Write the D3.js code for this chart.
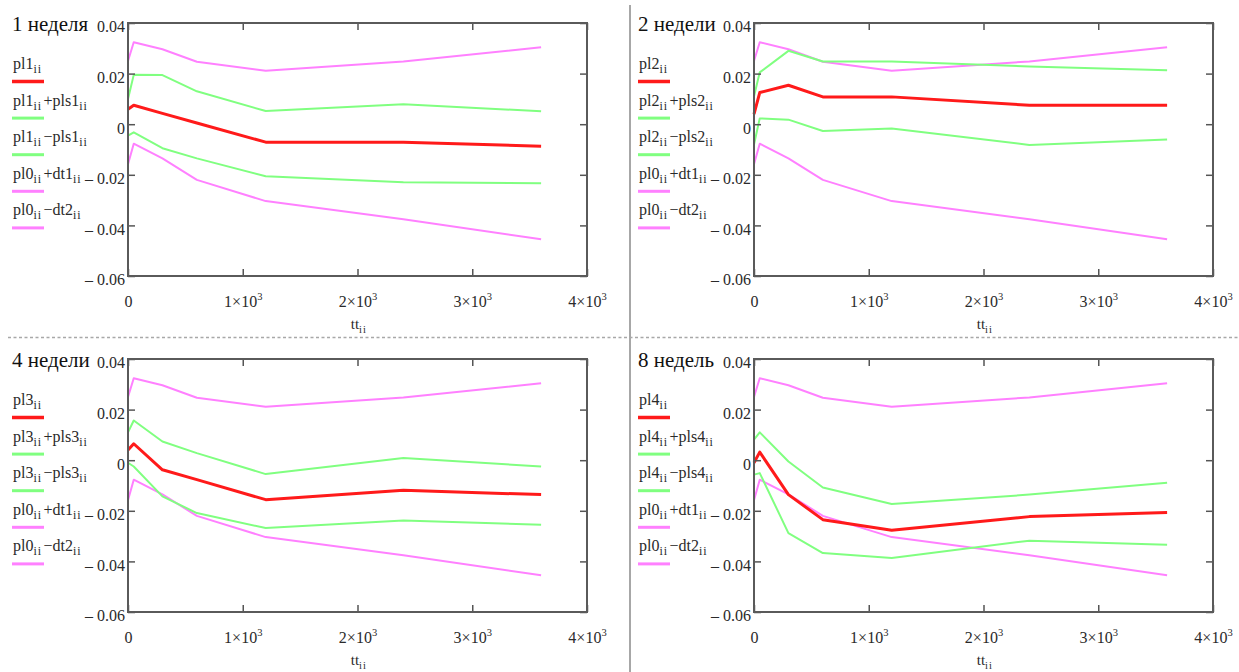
<!DOCTYPE html>
<html><head><meta charset="utf-8">
<script src="https://cdn.jsdelivr.net/npm/d3@7"></script>
<style>
body{margin:0;background:#fff;}
svg{display:block;}
svg text{font-family:'Liberation Serif','DejaVu Serif','Times New Roman',serif;}
</style></head><body>
<svg id="chart" width="1239" height="672"></svg>
<script>
// ---- data ----
const tt = [0, 50, 300, 600, 1200, 2400, 3600];
const pl0PlusDt1  = [0.025, 0.0324, 0.0296, 0.0247, 0.0211, 0.0248, 0.0304];
const pl0MinusDt2 = [-0.0158, -0.0077, -0.0135, -0.0220, -0.0304, -0.0376, -0.0455];

const pl1      = [0.0059, 0.0075, 0.0043, 0.0005, -0.0071, -0.0071, -0.0087];
const pl1Plus  = [0.0100, 0.0195, 0.0194, 0.0130, 0.0052, 0.0079, 0.0051];
const pl1Minus = [-0.0045, -0.0032, -0.0095, -0.0135, -0.0206, -0.0229, -0.0233];

const pl2      = [0.0040, 0.0125, 0.0154, 0.0108, 0.0108, 0.0075, 0.0075];
const pl2Plus  = [0.0110, 0.0205, 0.0290, 0.0248, 0.0248, 0.0228, 0.0213];
const pl2Minus = [-0.0080, 0.0023, 0.0018, -0.0027, -0.0017, -0.0082, -0.0060];

const pl3      = [0.0040, 0.0065, -0.0038, -0.0077, -0.0156, -0.0119, -0.0136];
const pl3Plus  = [0.0110, 0.0157, 0.0074, 0.0028, -0.0055, 0.0009, -0.0025];
const pl3Minus = [-0.0010, -0.0025, -0.0143, -0.0209, -0.0268, -0.0238, -0.0255];

const pl4      = [-0.0010, 0.0032, -0.0136, -0.0235, -0.0277, -0.0223, -0.0207];
const pl4Plus  = [0.0081, 0.0110, -0.0005, -0.0108, -0.0173, -0.0136, -0.0089];
const pl4Minus = [-0.0057, -0.0051, -0.0288, -0.0367, -0.0387, -0.0318, -0.0334];

const panelTitles = ["1 неделя", "2 недели", "4 недели", "8 недель"];
const legendLabels = [
  ["pl1_ii", "pl1_ii+pls1_ii", "pl1_ii−pls1_ii", "pl0_ii+dt1_ii", "pl0_ii−dt2_ii"],
  ["pl2_ii", "pl2_ii+pls2_ii", "pl2_ii−pls2_ii", "pl0_ii+dt1_ii", "pl0_ii−dt2_ii"],
  ["pl3_ii", "pl3_ii+pls3_ii", "pl3_ii−pls3_ii", "pl0_ii+dt1_ii", "pl0_ii−dt2_ii"],
  ["pl4_ii", "pl4_ii+pls4_ii", "pl4_ii−pls4_ii", "pl0_ii+dt1_ii", "pl0_ii−dt2_ii"]
];
const xTickValues = [0, 1000, 2000, 3000, 4000];
const xTickLabels = ["0", "1×10^3", "2×10^3", "3×10^3", "4×10^3"];
const yTickValues = [0.04, 0.02, 0, -0.02, -0.04, -0.06];
const yTickLabels = ["0.04", "0.02", "0", "– 0.02", "– 0.04", "– 0.06"];
const xAxisLabel = "tt_ii";

// ---- layout ----
const svg = d3.select("#chart");
const W = 459, H = 253;
const offsets = [[0, 0], [626, 0], [0, 336], [626, 336]];
const seriesColors = ["#ff1a1a", "#80ff80", "#80ff80", "#ff80ff", "#ff80ff"];
const seriesWidths = [3, 2, 2, 2, 2];
const legendWidths = [3.5, 3, 3, 3, 3];

const x = d3.scaleLinear().domain([0, 4000]).range([0, W]);
const y = d3.scaleLinear().domain([-0.06, 0.04]).range([H, 0]);

// separators
svg.append("line").attr("x1", 630).attr("x2", 630).attr("y1", 5).attr("y2", 672)
  .attr("stroke", "#8a8a8a").attr("stroke-width", 1.5);
svg.append("line").attr("x1", 8).attr("x2", 1239).attr("y1", 337.5).attr("y2", 337.5)
  .attr("stroke", "#a8a8a8").attr("stroke-width", 1.5).attr("stroke-dasharray", "3,2.5");

function richText(sel, str, subSize) {
  const parts = str.split(/(_ii)/);
  parts.forEach(p => {
    if (!p) return;
    if (p === "_ii") {
      sel.append("tspan").attr("font-size", subSize).attr("dy", 4).attr("letter-spacing", 1).text("ii");
      sel.append("tspan").attr("dy", -4).text("\u200a");
    } else {
      sel.append("tspan").text(p);
    }
  });
}

function supText(sel, str) {
  const [a, b] = str.split("^");
  sel.text(null);
  sel.append("tspan").text(a);
  if (b) sel.append("tspan").attr("font-size", 10.5).attr("dy", -7).text(b);
}

const panelSeries = [
  [pl1, pl1Plus, pl1Minus],
  [pl2, pl2Plus, pl2Minus],
  [pl3, pl3Plus, pl3Minus],
  [pl4, pl4Plus, pl4Minus]
];

panelSeries.forEach((ser, pi) => {
  const [ox, oy] = offsets[pi];
  const root = svg.append("g").attr("transform", `translate(${ox},${oy})`);

  root.append("text").attr("x", 12).attr("y", 31).attr("font-size", 21)
    .attr("fill", "#111").text(panelTitles[pi]);

  const lg = root.append("g").attr("transform", "translate(12,0)");
  legendLabels[pi].forEach((lab, i) => {
    const by = 69 + i * 36.6;
    const t = lg.append("text").attr("x", 1).attr("y", by).attr("font-size", 16).attr("fill", "#2a2a2a");
    richText(t, lab, 12);
    lg.append("line").attr("x1", 0).attr("x2", 32).attr("y1", by + 12.5).attr("y2", by + 12.5)
      .attr("stroke", seriesColors[i]).attr("stroke-width", legendWidths[i]);
  });

  const g = root.append("g").attr("transform", "translate(128,23)");

  const allSeries = [ser[0], ser[1], ser[2], pl0PlusDt1, pl0MinusDt2];
  const line = d3.line().x(d => x(d[0])).y(d => y(d[1]));
  const drawOrder = [3, 4, 1, 2, 0];
  drawOrder.forEach(si => {
    const pts = tt.map((t, k) => [t, allSeries[si][k]]);
    g.append("path").attr("d", line(pts)).attr("fill", "none")
      .attr("stroke", seriesColors[si]).attr("stroke-width", seriesWidths[si])
      .attr("stroke-linejoin", "round");
  });

  const tickColor = "#555";
  const left = g.append("g").call(d3.axisLeft(y).tickValues(yTickValues).tickSize(-7).tickPadding(3)
    .tickFormat((d, i) => yTickLabels[i]));
  left.selectAll("text").attr("dy", "0.55em");
  const right = g.append("g").attr("transform", `translate(${W},0)`)
    .call(d3.axisRight(y).tickValues(yTickValues).tickSize(-7).tickFormat(""));
  const top = g.append("g").call(d3.axisTop(x).tickValues(xTickValues).tickSize(-7).tickFormat(""));
  const bottom = g.append("g").attr("transform", `translate(0,${H})`)
    .call(d3.axisBottom(x).tickValues(xTickValues).tickSize(-7).tickPadding(20)
      .tickFormat((d, i) => xTickLabels[i]));
  bottom.selectAll(".tick text").each(function () { supText(d3.select(this), d3.select(this).text()); });

  [left, right, top, bottom].forEach(a => {
    a.attr("font-family", null);
    a.select(".domain").remove();
    a.selectAll(".tick line").attr("stroke", tickColor).attr("stroke-width", 1.5);
    a.selectAll("text").attr("font-size", 16).attr("fill", "#2a2a2a");
  });

  g.append("rect").attr("x", 0).attr("y", 0).attr("width", W).attr("height", H)
    .attr("fill", "none").attr("stroke", "#5a5a5a").attr("stroke-width", 2);

  const xl = g.append("text").attr("x", W / 2 + 2).attr("y", H + 53).attr("text-anchor", "middle")
    .attr("font-size", 15).attr("fill", "#2a2a2a");
  richText(xl, xAxisLabel, 10.5);
});
</script>
</body></html>
